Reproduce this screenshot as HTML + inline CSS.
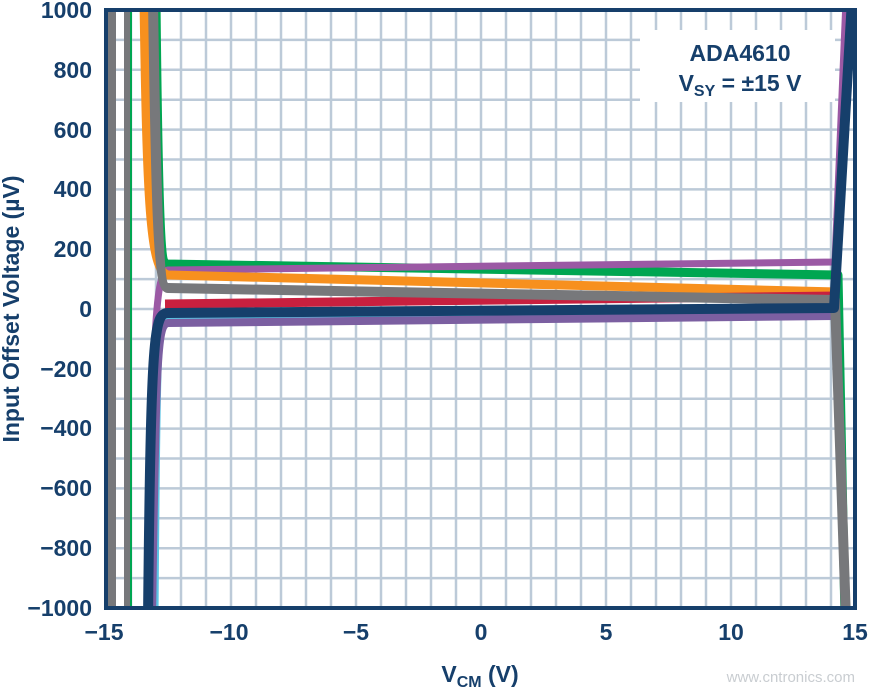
<!DOCTYPE html>
<html><head><style>body{margin:0;background:#fff}svg{display:block}</style></head><body>
<svg width="869" height="691" viewBox="0 0 869 691" xmlns="http://www.w3.org/2000/svg" font-family="Liberation Sans, sans-serif">
<defs><clipPath id="c"><rect x="106" y="10" width="749" height="598"/></clipPath></defs>
<rect x="106" y="10" width="749" height="598" fill="#fff"/>
<g stroke="#bccad8" stroke-width="2.5">
<path d="M131 10V608M156 10V608M181 10V608M206 10V608M231 10V608M256 10V608M281 10V608M306 10V608M331 10V608M356 10V608M381 10V608M406 10V608M431 10V608M456 10V608M481 10V608M506 10V608M531 10V608M556 10V608M581 10V608M606 10V608M631 10V608M656 10V608M681 10V608M706 10V608M731 10V608M756 10V608M781 10V608M806 10V608M831 10V608"/>
<path d="M106 39.9H855M106 69.8H855M106 99.7H855M106 129.6H855M106 159.5H855M106 189.4H855M106 219.3H855M106 249.2H855M106 279.1H855M106 309H855M106 338.9H855M106 368.8H855M106 398.7H855M106 428.6H855M106 458.5H855M106 488.4H855M106 518.3H855M106 548.2H855M106 578.1H855"/>
</g>
<g clip-path="url(#c)" fill="none" stroke-linejoin="round">
<path d="M112 0V620M128 0V620" stroke="#77787b" stroke-width="8"/>
<path d="M131 0V620" stroke="#00a651" stroke-width="2"/>
<path d="M156 0 C158 200 160 262 167 264 L838 275 L845 620" stroke="#00a651" stroke-width="9"/>
<path d="M150 620 C152 320 156 272 168 270 L835 262 L846 0" stroke="#9b59a4" stroke-width="7"/>
<path d="M144 0 C147 200 150 272 168 275 L838 292" stroke="#f7901e" stroke-width="9"/>
<path d="M165 304 L838 296" stroke="#c8203f" stroke-width="9"/>
<path d="M155 620 C157 330 158 318 168 318 L835 312" stroke="#5bc5e5" stroke-width="7"/>
<path d="M152 620 C156 340 158 325 168 323 L835 316" stroke="#7b5fa1" stroke-width="8"/>
<path d="M153 0 C156 200 158 288 168 288 L835 300 L846 620" stroke="#77787b" stroke-width="10"/>
<path d="M148 620 C151 330 154 313 168 313 L834 308 L852 0" stroke="#163f6b" stroke-width="10"/>
</g>
<rect x="106" y="10" width="749" height="598" fill="none" stroke="#163f6b" stroke-width="4"/>
<rect x="640" y="30" width="195" height="72" fill="#fff"/>
<g fill="#163f6b" font-weight="bold" font-size="23">
<text x="740" y="61" text-anchor="middle">ADA4610</text>
<text x="740" y="91" text-anchor="middle">V<tspan font-size="16" dy="5">SY</tspan><tspan dy="-5"> = ±15 V</tspan></text>
<g text-anchor="end">
<text x="92" y="18">1000</text><text x="92" y="78">800</text><text x="92" y="138">600</text><text x="92" y="197">400</text><text x="92" y="257">200</text><text x="92" y="317">0</text><text x="92" y="377">−200</text><text x="92" y="436">−400</text><text x="92" y="496">−600</text><text x="92" y="556">−800</text><text x="92" y="616">−1000</text>
</g>
<g text-anchor="middle">
<text x="104" y="640">−15</text><text x="229" y="640">−10</text><text x="356" y="640">−5</text><text x="481" y="640">0</text><text x="606" y="640">5</text><text x="731" y="640">10</text><text x="855" y="640">15</text>
<text x="480" y="682">V<tspan font-size="16" dy="5">CM</tspan><tspan dy="-5"> (V)</tspan></text>
<text transform="translate(19 309) rotate(-90)">Input Offset Voltage (µV)</text>
</g>
</g>
<text x="855" y="682" text-anchor="end" fill="#c9cdd1" font-size="15">www.cntronics.com</text>
</svg>
</body></html>
